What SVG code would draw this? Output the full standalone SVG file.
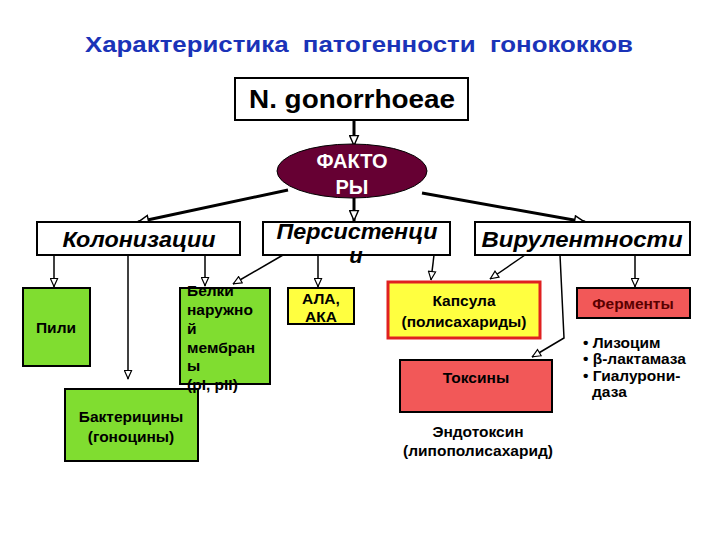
<svg xmlns="http://www.w3.org/2000/svg" width="720" height="540" viewBox="0 0 720 540">
<style>
.t{font-family:"Liberation Sans",Arial,sans-serif;font-weight:bold;fill:#000}
.c{text-anchor:middle}
.lvl{font-size:22px;font-style:italic}
.sm{font-size:15.5px}
.box{stroke:#000;stroke-width:2}
.g{fill:#80dd30}
.y{fill:#ffff40}
.r{fill:#f25858}
.thick{stroke:#000;stroke-width:3;fill:none}
.thin{stroke:#000;stroke-width:1.5;fill:none}
</style>
<defs>
<marker id="ab" viewBox="0 0 10 10" refX="10" refY="5" markerWidth="12" markerHeight="11" markerUnits="userSpaceOnUse" orient="auto">
<path d="M0.5,1 L9.5,5 L0.5,9 z" fill="#fff" stroke="#000" stroke-width="1.3"/>
</marker>
<marker id="as" viewBox="0 0 10 10" refX="10" refY="5" markerWidth="10" markerHeight="9" markerUnits="userSpaceOnUse" orient="auto">
<path d="M0.5,1 L9.5,5 L0.5,9 z" fill="#fff" stroke="#000" stroke-width="1.3"/>
</marker>
</defs>
<rect width="720" height="540" fill="#fff"/>
<text id="title" class="t c" x="359" y="52" font-size="22" style="fill:#1a33b8;white-space:pre" textLength="548" lengthAdjust="spacingAndGlyphs">Характеристика  патогенности  гонококков</text>

<g id="connectors">
<line class="thick" x1="354" y1="120" x2="354" y2="146" marker-end="url(#ab)"/>
<line class="thick" x1="288" y1="190" x2="138" y2="222" marker-end="url(#ab)"/>
<line class="thick" x1="354" y1="198" x2="354" y2="221" marker-end="url(#ab)"/>
<line class="thick" x1="422" y1="193" x2="585" y2="222" marker-end="url(#ab)"/>
<line class="thin" x1="54" y1="255" x2="54" y2="287" marker-end="url(#as)"/>
<line class="thin" x1="128" y1="255" x2="128" y2="379" marker-end="url(#as)"/>
<line class="thin" x1="205" y1="255" x2="205" y2="286" marker-end="url(#as)"/>
<line class="thin" x1="283" y1="255" x2="233" y2="284" marker-end="url(#as)"/>
<line class="thin" x1="318" y1="255" x2="318" y2="287" marker-end="url(#as)"/>
<line class="thin" x1="434" y1="255" x2="431" y2="280" marker-end="url(#as)"/>
<line class="thin" x1="525" y1="255" x2="490" y2="279" marker-end="url(#as)"/>
<polyline class="thin" points="560,255 564,338 532,357" marker-end="url(#as)"/>
<line class="thin" x1="635" y1="255" x2="635" y2="287" marker-end="url(#as)"/>
</g>

<g id="n-gonorrhoeae">
<rect class="box" x="235" y="78" width="233" height="42" fill="#fff"/>
<text class="t c" x="352" y="108" font-size="26" textLength="206" lengthAdjust="spacingAndGlyphs">N. gonorrhoeae</text>
</g>

<g id="factors">
<ellipse cx="352" cy="171" rx="75" ry="27" fill="#660033" stroke="#000" stroke-width="1"/>
<text class="t c" x="352" y="168" font-size="20" style="fill:#fff">ФАКТО</text>
<text class="t c" x="352" y="194" font-size="20" style="fill:#fff">РЫ</text>
</g>

<g id="colonization">
<rect class="box" x="37" y="222" width="203" height="33" fill="#fff"/>
<text class="t c lvl" x="139" y="247" textLength="153" lengthAdjust="spacingAndGlyphs">Колонизации</text>
</g>

<g id="persistence">
<rect class="box" x="263" y="222" width="187" height="33" fill="#fff"/>
<text class="t c lvl" x="357" y="239" textLength="161" lengthAdjust="spacingAndGlyphs">Персистенци</text>
<text class="t c lvl" x="356" y="263">и</text>
</g>

<g id="virulence">
<rect class="box" x="475" y="222" width="215" height="33" fill="#fff"/>
<text class="t c lvl" x="582" y="247" textLength="201" lengthAdjust="spacingAndGlyphs">Вирулентности</text>
</g>

<g id="pili">
<rect class="box g" x="23" y="288" width="67" height="78"/>
<text class="t c sm" x="56" y="333">Пили</text>
</g>

<g id="bacteriocins">
<rect class="box g" x="65" y="389" width="133" height="72"/>
<text class="t c sm" x="131" y="422">Бактерицины</text>
<text class="t c sm" x="131" y="442">(гоноцины)</text>
</g>

<g id="outer-membrane">
<rect class="box g" x="180" y="288" width="90" height="96"/>
<text class="t sm" x="187" y="296">Белки</text>
<text class="t sm" x="187" y="315">наружно</text>
<text class="t sm" x="187" y="334">й</text>
<text class="t sm" x="187" y="353">мембран</text>
<text class="t sm" x="187" y="371">ы</text>
<text class="t sm" x="187" y="390">(pI, pII)</text>
</g>

<g id="ala">
<rect class="box y" x="288" y="288" width="66" height="36"/>
<text class="t c sm" x="321" y="304">АЛА,</text>
<text class="t c sm" x="321" y="322">АКА</text>
</g>

<g id="capsule">
<rect x="388" y="282" width="152" height="56" fill="#ffff40" stroke="#e02020" stroke-width="3"/>
<text class="t c sm" x="464" y="306">Капсула</text>
<text class="t c sm" x="464" y="327">(полисахариды)</text>
</g>

<g id="enzymes">
<rect class="box r" x="577" y="288" width="113" height="30"/>
<text class="t c sm" x="633" y="309" style="fill:#5a0000">Ферменты</text>
</g>

<g id="enzyme-list">
<text class="t sm" x="583" y="348">• Лизоцим</text>
<text class="t sm" x="583" y="364">• β-лактамаза</text>
<text class="t sm" x="583" y="381">• Гиалурони-</text>
<text class="t sm" x="592" y="397">даза</text>
</g>

<g id="toxins">
<rect class="box r" x="400" y="360" width="152" height="52"/>
<text class="t c sm" x="476" y="383">Токсины</text>
</g>

<g id="endotoxin">
<text class="t c sm" x="478" y="437">Эндотоксин</text>
<text class="t c sm" x="478" y="456">(липополисахарид)</text>
</g>
</svg>
